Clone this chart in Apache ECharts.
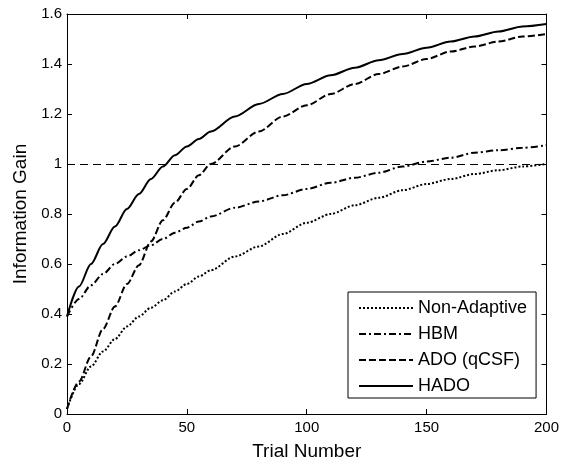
<!DOCTYPE html>
<html>
<head>
<meta charset="utf-8">
<script src="https://cdn.jsdelivr.net/npm/echarts@6/dist/echarts.min.js"></script>
<style>
  html, body { margin: 0; padding: 0; background: #fff; }
  #chart { width: 562px; height: 466px; }
</style>
</head>
<body>
<div id="chart"></div>
<script>
// Trial numbers (x values)
const trials = [0, 5, 10, 15, 20, 25, 30, 35, 40, 45, 50, 55, 60, 70, 80, 90, 100, 110, 120, 130, 140, 150, 160, 170, 180, 190, 200];

// Information gain per method
const nonAdaptive = [0.02, 0.12, 0.19, 0.25, 0.30, 0.35, 0.39, 0.425, 0.455, 0.49, 0.52, 0.55, 0.575, 0.63, 0.67, 0.72, 0.765, 0.80, 0.835, 0.865, 0.895, 0.92, 0.94, 0.96, 0.975, 0.99, 1.0];
const hbm         = [0.39, 0.46, 0.515, 0.56, 0.60, 0.63, 0.655, 0.675, 0.70, 0.725, 0.745, 0.77, 0.79, 0.825, 0.85, 0.875, 0.90, 0.925, 0.945, 0.965, 0.99, 1.01, 1.025, 1.045, 1.055, 1.065, 1.075];
const ado         = [0.02, 0.13, 0.23, 0.34, 0.43, 0.52, 0.595, 0.69, 0.775, 0.845, 0.90, 0.955, 1.0, 1.07, 1.13, 1.19, 1.235, 1.28, 1.32, 1.36, 1.39, 1.42, 1.45, 1.47, 1.49, 1.51, 1.52];
const hado        = [0.39, 0.51, 0.60, 0.68, 0.75, 0.82, 0.88, 0.94, 0.99, 1.035, 1.07, 1.10, 1.13, 1.19, 1.24, 1.28, 1.32, 1.355, 1.385, 1.415, 1.44, 1.465, 1.49, 1.51, 1.53, 1.55, 1.56];

const seriesNames = ['Non-Adaptive', 'HBM', 'ADO (qCSF)', 'HADO'];
const referenceLevel = 1;

const xTicks = [0, 50, 100, 150, 200];
const yTicks = [0, 0.2, 0.4, 0.6, 0.8, 1, 1.2, 1.4, 1.6];

function pairs(ys) { return trials.map((t, i) => [t, ys[i]]); }

const FONT = 'Liberation Sans, Arial, Helvetica, sans-serif';
const chart = echarts.init(document.getElementById('chart'), null, { renderer: 'canvas' });

const tickInside = { show: true, inside: true, length: 5, lineStyle: { color: '#000', width: 1 } };
const axisLineBlack = { show: true, onZero: false, lineStyle: { color: '#000', width: 1 } };

function lineSeries(name, ys, dash, extra) {
  return Object.assign({
    name: name,
    type: 'line',
    data: pairs(ys),
    symbol: 'none',
    showSymbol: false,
    smooth: 0.3,
    smoothMonotone: 'x',
    lineStyle: { color: '#000', width: 2, type: dash },
    itemStyle: { color: '#000' },
    z: 3
  }, extra || {});
}

chart.setOption({
  animation: false,
  backgroundColor: '#fff',
  grid: { left: 67, right: 15, top: 14, bottom: 52, containLabel: false },
  legend: {
    orient: 'vertical',
    left: 348,
    top: 292,
    data: seriesNames,
    itemWidth: 54,
    itemHeight: 14,
    itemGap: 8,
    padding: [7, 9, 3, 10],
    borderColor: '#000',
    borderWidth: 1,
    backgroundColor: '#fff',
    itemStyle: { color: 'rgba(0,0,0,0)', borderWidth: 0, opacity: 0 },
    textStyle: { fontFamily: FONT, fontSize: 18, color: '#000' },
    selectedMode: false
  },
  xAxis: [{
    type: 'value',
    min: 0, max: 200, interval: 50,
    name: 'Trial Number',
    nameLocation: 'middle',
    nameGap: 28,
    nameTextStyle: { fontFamily: FONT, fontSize: 19, color: '#000' },
    axisLine: axisLineBlack,
    axisTick: tickInside,
    axisLabel: { margin: 6, fontFamily: FONT, fontSize: 15, color: '#000',
      formatter: v => xTicks.includes(v) ? String(v) : '' },
    splitLine: { show: false }
  }, {
    type: 'value', position: 'top',
    min: 0, max: 200, interval: 50,
    axisLine: axisLineBlack,
    axisTick: tickInside,
    axisLabel: { show: false },
    splitLine: { show: false }
  }],
  yAxis: [{
    type: 'value',
    min: 0, max: 1.6, interval: 0.2,
    name: 'Information Gain',
    nameLocation: 'middle',
    nameGap: 37,
    nameTextStyle: { fontFamily: FONT, fontSize: 19, color: '#000' },
    axisLine: axisLineBlack,
    axisTick: tickInside,
    axisLabel: { margin: 5, fontFamily: FONT, fontSize: 15, color: '#000',
      formatter: v => { const r = Math.round(v * 10) / 10; return String(r); } },
    splitLine: { show: false }
  }, {
    type: 'value', position: 'right',
    min: 0, max: 1.6, interval: 0.2,
    axisLine: axisLineBlack,
    axisTick: tickInside,
    axisLabel: { show: false },
    splitLine: { show: false }
  }],
  series: [
    lineSeries(seriesNames[0], nonAdaptive, [2, 2]),
    lineSeries(seriesNames[1], hbm, [7, 3, 2, 3]),
    lineSeries(seriesNames[2], ado, [7, 3]),
    lineSeries(seriesNames[3], hado, 'solid', {
      markLine: {
        silent: true,
        symbol: 'none',
        label: { show: false },
        lineStyle: { color: '#000', width: 1, type: [8, 5] },
        data: [{ yAxis: referenceLevel }],
        z: 1
      }
    })
  ]
});
</script>
</body>
</html>
